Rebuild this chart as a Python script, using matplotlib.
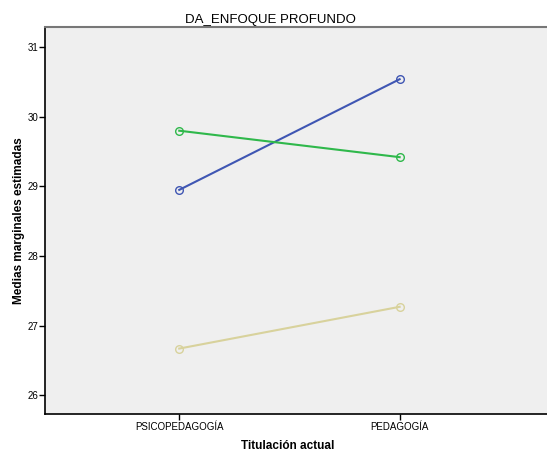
import matplotlib
matplotlib.use("Agg")
import matplotlib.pyplot as plt

categories = ["PSICOPEDAGOGÍA", "PEDAGOGÍA"]
series_blue = [28.95, 30.54]
series_green = [29.80, 29.42]
series_tan = [26.67, 27.27]
y_ticks = [26, 27, 28, 29, 30, 31]

plt.rcParams["font.family"] = ["Liberation Sans", "DejaVu Sans"]

fig = plt.figure(figsize=(5.47, 4.51), dpi=100)
ax = fig.add_axes([45 / 547, 1 - 414 / 451, 1.02 - 45 / 547, (414 - 27) / 451])
ax.set_facecolor("#efefef")

x = list(range(len(categories)))
for vals, col in [(series_blue, "#3f56b3"), (series_green, "#2fb84b"), (series_tan, "#d8d29c")]:
    ax.plot(x, vals, color=col, lw=1.5, marker="o", ms=5.5, mfc="none", mec=col, mew=1.0)

ax.set_xlim(-134 / 220, 1 + 158 / 220)
ax.set_ylim(25.73, 31.29)
ax.set_xticks(x)
ax.set_xticklabels(categories, fontsize=7)
ax.set_yticks(y_ticks)
ax.set_yticklabels([str(t) for t in y_ticks], fontsize=7)
ax.tick_params(axis="both", length=4.3, width=1, color="black", pad=1.5)
ax.tick_params(axis="y", pad=0.5)

for side in ["left", "bottom"]:
    ax.spines[side].set_color("black")
    ax.spines[side].set_linewidth(1.2)
ax.spines["top"].set_color("#777777")
ax.spines["top"].set_linewidth(1.5)
ax.spines["right"].set_visible(False)

ax.set_xlabel("Titulación actual", fontsize=8.5, fontweight="bold", labelpad=2)
ax.xaxis.set_label_coords(0.474, -0.068)
ax.set_ylabel("Medias marginales estimadas", fontsize=8.5, fontweight="bold")
ax.yaxis.set_label_coords(-0.039, 0.5)
fig.text(270 / 547, 1 - 20 / 451, "DA_ENFOQUE PROFUNDO", ha="center", va="center", fontsize=9.5)

fig.savefig("out.png", dpi=100)
